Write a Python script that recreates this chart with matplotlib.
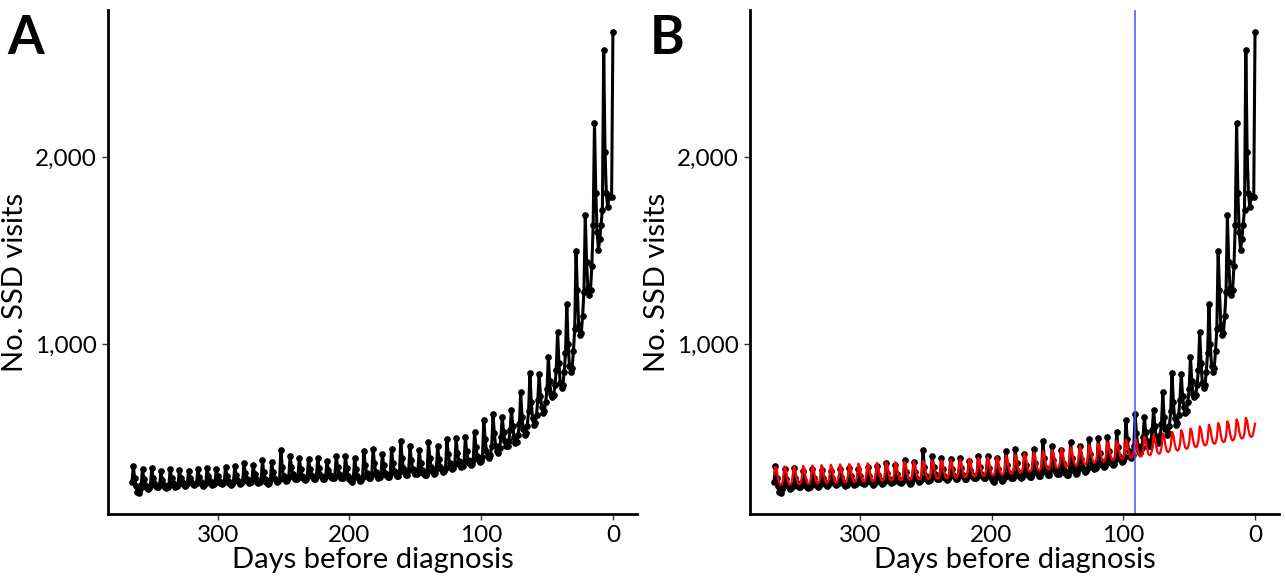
import numpy as np
import matplotlib.pyplot as plt

plt.rcParams['font.family'] = ['Lato', 'DejaVu Sans']

# days before diagnosis, 365 ... 0
days = list(range(365, -1, -1))

# observed daily SSD visits: first day (365), then one row per week
# starting at each weekly peak day (364, 357, ... 7), then day 0
obs_first = [262]
obs_weeks = [
    [345, 282, 240, 205, 198, 222, 245],   # 364
    [330, 275, 245, 232, 224, 228, 240],   # 357
    [335, 282, 252, 238, 230, 232, 244],   # 350
    [320, 268, 244, 232, 226, 230, 241],   # 343
    [330, 280, 254, 242, 235, 237, 248],   # 336
    [325, 282, 258, 247, 240, 243, 252],   # 329
    [320, 283, 261, 251, 245, 247, 255],   # 322
    [330, 285, 258, 247, 240, 243, 254],   # 315
    [335, 290, 263, 252, 245, 248, 258],   # 308
    [330, 290, 266, 256, 250, 252, 261],   # 301
    [340, 293, 264, 253, 245, 249, 260],   # 294
    [345, 298, 269, 258, 250, 253, 264],   # 287
    [360, 307, 276, 263, 255, 258, 270],   # 280
    [350, 303, 274, 262, 255, 257, 268],   # 273
    [375, 312, 275, 260, 250, 254, 268],   # 266
    [365, 312, 281, 268, 260, 263, 275],   # 259
    [433, 340, 290, 275, 265, 268, 285],   # 252
    [400, 338, 300, 285, 275, 278, 292],   # 245
    [390, 330, 294, 280, 270, 273, 287],   # 238
    [385, 330, 297, 284, 275, 278, 291],   # 231
    [390, 333, 298, 284, 275, 278, 292],   # 224
    [370, 325, 298, 287, 280, 282, 293],   # 217
    [400, 340, 304, 290, 280, 283, 298],   # 210
    [401, 335, 292, 275, 265, 262, 282],   # 203
    [390, 328, 290, 275, 265, 268, 284],   # 196
    [424, 350, 309, 292, 280, 283, 302],   # 189
    [438, 359, 312, 293, 280, 284, 304],   # 182
    [411, 348, 310, 295, 285, 288, 304],   # 175
    [438, 364, 320, 302, 290, 293, 312],   # 168
    [481, 388, 332, 310, 295, 299, 323],   # 161
    [451, 375, 330, 312, 300, 303, 323],   # 154
    [430, 362, 322, 306, 295, 298, 315],   # 147
    [475, 390, 339, 319, 305, 309, 330],   # 140
    [451, 383, 342, 326, 315, 318, 336],   # 133
    [492, 411, 362, 345, 330, 334, 356],   # 126
    [494, 417, 371, 353, 340, 344, 365],   # 119
    [499, 425, 380, 362, 350, 355, 375],   # 112
    [529, 447, 398, 380, 365, 370, 395],   # 105
    [593, 490, 428, 400, 388, 405, 450],   # 98
    [622, 520, 455, 425, 415, 440, 500],   # 91
    [610, 530, 478, 450, 452, 480, 540],   # 84
    [647, 560, 500, 470, 475, 510, 570],   # 77
    [740, 610, 545, 510, 520, 560, 640],   # 70
    [845, 690, 600, 565, 575, 620, 700],   # 63
    [840, 720, 660, 630, 640, 690, 760],   # 56
    [932, 800, 730, 715, 725, 780, 860],   # 49
    [1066, 900, 790, 765, 780, 850, 950],  # 42
    [1214, 1000, 880, 850, 870, 960, 1080],  # 35
    [1499, 1290, 1100, 1045, 1060, 1150, 1280],  # 28
    [1690, 1440, 1300, 1262, 1290, 1420, 1640],  # 21
    [2186, 1810, 1600, 1505, 1560, 1640, 1720],  # 14
    [2577, 2030, 1807, 1735, 1790, 1795, 1790],  # 7
]
obs_last = [2674]

# expected (baseline model) visits, same layout
exp_first = [300]
exp_weeks = [
    [340, 325, 279, 251, 243, 248, 274],
    [342, 327, 281, 253, 245, 250, 276],
    [344, 329, 283, 255, 247, 252, 278],
    [346, 331, 285, 257, 249, 254, 280],
    [348, 333, 287, 259, 251, 256, 282],
    [350, 335, 289, 261, 253, 258, 284],
    [352, 337, 291, 263, 255, 260, 286],
    [354, 339, 293, 265, 257, 262, 288],
    [356, 341, 295, 267, 259, 264, 290],
    [358, 343, 297, 269, 261, 266, 292],
    [360, 345, 299, 271, 263, 268, 294],
    [362, 347, 301, 273, 265, 270, 296],
    [364, 349, 303, 275, 267, 272, 298],
    [366, 351, 305, 277, 269, 274, 300],
    [368, 353, 307, 279, 271, 276, 302],
    [370, 355, 309, 281, 273, 278, 304],
    [372, 357, 311, 283, 275, 280, 306],
    [374, 359, 313, 285, 277, 282, 308],
    [376, 361, 315, 287, 279, 284, 310],
    [379, 364, 318, 290, 282, 287, 313],
    [382, 367, 321, 293, 285, 290, 316],
    [385, 370, 324, 296, 288, 293, 319],
    [388, 373, 327, 299, 291, 296, 322],
    [391, 376, 330, 302, 294, 299, 325],
    [395, 380, 334, 306, 298, 303, 329],
    [400, 385, 339, 311, 303, 308, 334],
    [406, 391, 345, 317, 309, 314, 340],
    [412, 397, 351, 323, 315, 320, 346],
    [418, 403, 357, 329, 321, 326, 352],
    [424, 409, 363, 335, 327, 332, 358],
    [431, 416, 370, 342, 334, 339, 365],
    [438, 423, 377, 349, 341, 346, 372],
    [445, 430, 384, 356, 348, 353, 379],
    [452, 437, 391, 363, 355, 360, 386],
    [459, 444, 398, 370, 362, 367, 393],
    [466, 451, 405, 377, 369, 374, 400],
    [473, 458, 412, 384, 376, 381, 407],
    [480, 465, 419, 391, 383, 388, 414],
    [486, 471, 425, 397, 389, 394, 420],
    [492, 477, 431, 403, 395, 400, 426],
    [503, 487, 440, 411, 403, 408, 435],
    [511, 495, 448, 419, 411, 416, 443],
    [519, 503, 456, 427, 419, 424, 451],
    [528, 512, 465, 436, 428, 433, 460],
    [537, 521, 474, 445, 437, 442, 469],
    [546, 530, 483, 454, 446, 451, 478],
    [558, 541, 493, 464, 455, 460, 487],
    [567, 550, 502, 473, 464, 469, 496],
    [576, 559, 511, 482, 473, 478, 505],
    [585, 568, 520, 491, 482, 487, 514],
    [595, 578, 530, 501, 492, 497, 524],
    [604, 587, 539, 510, 501, 506, 533],
]
exp_last = [572]

cutoff_day = 91

observed = obs_first + [v for w in obs_weeks for v in w] + obs_last
expected = exp_first + [v for w in exp_weeks for v in w] + exp_last

fig = plt.figure(figsize=(12.85, 5.79), dpi=100)
axA = fig.add_axes([0.084, 0.1123, 0.4117, 0.8704])
axB = fig.add_axes([0.5837, 0.1123, 0.4117, 0.8704])


def style(ax):
    ax.set_xlim(383.25, -18.25)
    ax.set_ylim(88, 2790)
    ax.set_xticks([300, 200, 100, 0])
    ax.set_yticks([1000, 2000])
    ax.set_yticklabels(['1,000', '2,000'])
    for s in ['top', 'right']:
        ax.spines[s].set_visible(False)
    for s in ['left', 'bottom']:
        ax.spines[s].set_linewidth(2.0)
    ax.tick_params(labelsize=17.5, length=4, width=1, color='#333333', pad=4)
    ax.set_xlabel('Days before diagnosis', fontsize=21, labelpad=1)
    ax.set_ylabel('No. SSD visits', fontsize=21, labelpad=5)
    ax.yaxis.label.set_y(0.46)


axA.plot(days, observed, color='black', lw=2.2, marker='o', ms=3.8,
         solid_joinstyle='round')
style(axA)

axB.plot(days, observed, color='black', lw=2.2, marker='o', ms=3.8,
         solid_joinstyle='round')
axB.plot(days, expected, color='#ff0000', lw=1.6, solid_joinstyle='round')
axB.axvline(cutoff_day, color='#4d4dff', lw=1.1)
style(axB)

fig.text(0.006, 0.975, 'A', fontsize=38, fontweight='bold', va='top')
fig.text(0.506, 0.975, 'B', fontsize=38, fontweight='bold', va='top')

fig.savefig('out.png', dpi=100)
